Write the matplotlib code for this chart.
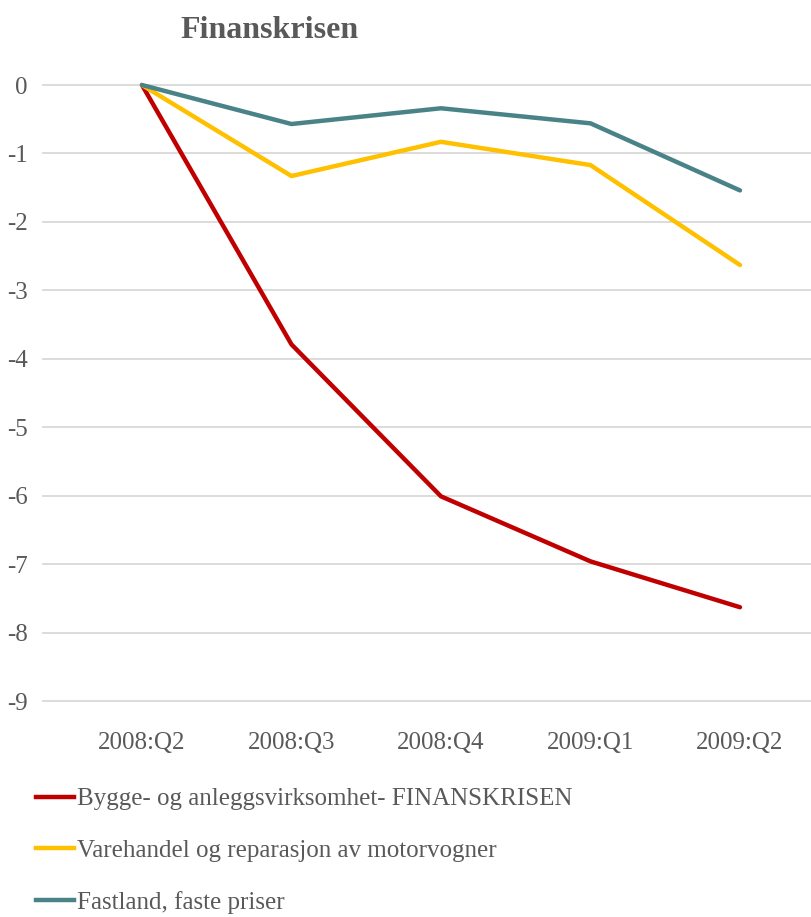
import matplotlib.pyplot as plt
from matplotlib.lines import Line2D

# data
kvartaler = ['2008:Q2', '2008:Q3', '2008:Q4', '2009:Q1', '2009:Q2']
bygg = [0, -3.79, -6.01, -6.96, -7.63]
varehandel = [0, -1.33, -0.83, -1.17, -2.63]
fastland = [0, -0.57, -0.34, -0.56, -1.54]
navn = ['Bygge- og anleggsvirksomhet- FINANSKRISEN',
        'Varehandel og reparasjon av motorvogner',
        'Fastland, faste priser']
farger = ['#C00000', '#FFC000', '#4A8387']
yticks = [0, -1, -2, -3, -4, -5, -6, -7, -8, -9]

tekst = '#595959'
plt.rcParams['font.family'] = ['Liberation Serif', 'DejaVu Serif']

W, H = 811, 917
fig = plt.figure(figsize=(W / 100, H / 100), dpi=100)
ax = fig.add_axes([43 / W, (H - 701) / H, (W - 43) / W, (701 - 85) / H])

x = list(range(len(kvartaler)))
for serie, farge in zip([bygg, varehandel, fastland], farger):
    ax.plot(x, serie, color=farge, lw=3.2, solid_capstyle='round', clip_on=False, zorder=3)

ax.set_xlim(-0.662, 4.475)
ax.set_ylim(-9, 0)
ax.set_yticks(yticks)
ax.set_yticklabels([str(v) for v in yticks])
ax.set_xticks(x)
ax.set_xticklabels(kvartaler)
ax.grid(axis='y', color='#D9D9D9', lw=1.3, clip_on=False)
ax.set_axisbelow(True)
for s in ax.spines.values():
    s.set_visible(False)
ax.tick_params(length=0, labelsize=18, labelcolor=tekst)
ax.tick_params(axis='y', pad=11)
ax.tick_params(axis='x', pad=22)

fig.text(270 / W, 1 - 30 / H, 'Finanskrisen', ha='center', va='center',
         fontsize=23, fontweight='bold', color=tekst)

handles = [Line2D([0], [0], color=f, lw=3.2) for f in farger]
fig.legend(handles, navn, loc='upper left', bbox_to_anchor=(36 / W, 1 - 788 / H),
           frameon=False, fontsize=18, labelcolor=tekst, handlelength=1.5,
           handletextpad=0.15, labelspacing=1.16, borderaxespad=0, borderpad=0)

fig.savefig('out.png', dpi=100)
